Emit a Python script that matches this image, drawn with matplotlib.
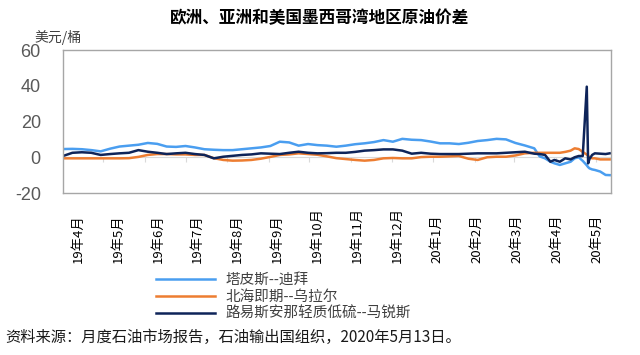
import numpy as np
import pandas as pd
import matplotlib
matplotlib.use("Agg")
import matplotlib.pyplot as plt

plt.rcParams['font.family'] = ['Noto Sans CJK SC', 'DejaVu Sans']

# weekly readings up to mid-March 2020, then denser readings around the spike
dates = list(pd.date_range("2019-04-01", periods=51, freq="7D")) + list(pd.to_datetime([
    "2020-03-20", "2020-03-24", "2020-03-28", "2020-03-31", "2020-04-04", "2020-04-08",
    "2020-04-12", "2020-04-15", "2020-04-18", "2020-04-21", "2020-04-24", "2020-04-25",
    "2020-04-26", "2020-04-28", "2020-04-30", "2020-05-04", "2020-05-08", "2020-05-11"]))

tapis_dubai = [4.6, 4.7, 4.5, 4.0, 3.3, 4.8, 6.0, 6.5, 7.0, 8.0,
               7.5, 6.0, 5.8, 6.3, 5.5, 4.5, 4.2, 4.0, 4.0, 4.5,
               5.0, 5.5, 6.3, 8.7, 8.3, 6.5, 7.4, 6.8, 6.5, 5.9,
               6.5, 7.3, 7.8, 8.5, 9.6, 8.7, 10.3, 9.8, 9.6, 8.8,
               7.8, 7.8, 7.4, 8.1, 9.1, 9.6, 10.3, 10.0, 8.0, 6.6,
               5.0,
               0.5, -0.6, -2.5, -3.4, -4.3, -3.4, -2.5, -0.6, 0.0, -2.0,
               -4.5, -5.5, -6.2, -6.8, -7.1, -8.0, -9.9, -10.0]

brent_urals = [-0.6, -0.6, -0.6, -0.6, -0.6, -0.6, -0.6, -0.5, 0.2, 1.3,
               1.8, 1.8, 1.6, 1.6, 1.3, 1.3, -0.5, -1.5, -1.9, -1.8,
               -1.5, -0.8, 0.2, 1.3, 1.6, 2.2, 1.8, 1.4, 0.5, -0.5,
               -1.0, -1.5, -1.9, -1.5, -0.6, -0.4, -0.6, -0.6, 0.1, 0.3,
               0.3, 0.5, 0.7, -0.8, -1.5, 0.0, 0.3, 0.3, 1.0, 2.2,
               2.5,
               2.5, 2.5, 2.5, 2.5, 2.5, 3.0, 3.7, 5.0, 4.6, 3.0,
               1.5, 0.8, 0.0, -0.6, -0.6, -1.2, -1.2, -1.2]

lls_mars = [0.7, 2.5, 2.8, 2.5, 1.3, 1.8, 2.2, 2.5, 4.0, 3.1,
            2.5, 1.8, 2.2, 2.5, 1.8, 1.3, -0.6, 0.3, 0.8, 1.3,
            1.6, 2.2, 2.0, 1.8, 2.5, 3.1, 2.5, 2.2, 2.3, 2.5,
            2.5, 3.0, 3.7, 4.0, 4.4, 4.4, 3.7, 2.0, 2.5, 2.0,
            1.8, 1.8, 1.8, 2.0, 2.2, 2.2, 2.2, 2.5, 2.8, 3.1,
            2.0,
            1.8, 1.3, -2.5, -1.5, -2.5, -0.6, -1.2, 0.0, 0.7, 0.7,
            39.5, -3.4, -1.0, 1.3, 2.2, 2.0, 1.8, 2.2]

month_labels = ["19年4月", "19年5月", "19年6月", "19年7月", "19年8月", "19年9月", "19年10月",
                "19年11月", "19年12月", "20年1月", "20年2月", "20年3月", "20年4月", "20年5月"]

fig = plt.figure(figsize=(6.4, 3.55), dpi=100)
ax = fig.add_axes([0.0984, 0.4563, 0.8563, 0.4028])

ax.plot(dates, tapis_dubai, color='#4A9EF0', lw=1.8, label='塔皮斯--迪拜')
ax.plot(dates, brent_urals, color='#ED7D31', lw=1.8, label='北海即期--乌拉尔')
ax.plot(dates, lls_mars, color='#0E2459', lw=1.8, label='路易斯安那轻质低硫--马锐斯')

# horizontal axis sits at zero, with month tick marks below it
month_starts = pd.date_range("2019-05-01", "2020-05-01", freq="MS")
ax.axhline(0, color='#D9D9D9', lw=0.8, zorder=0)
ax.vlines(month_starts, -2.8, 0, color='#D9D9D9', lw=0.8, zorder=0)

ax.set_xlim(dates[0], dates[-1] + pd.Timedelta(days=1))
ax.set_ylim(-20, 60)
ax.set_yticks([-20, 0, 20, 40, 60])
ax.tick_params(axis='y', length=0, pad=16, labelsize=13, labelcolor='#595959')
ax.set_yticklabels(['-20', '0', '20', '40', '60'], family=['Liberation Sans', 'DejaVu Sans'])
ax.set_xticks([])
for s in ax.spines.values():
    s.set_color('#A6A6A6')
    s.set_linewidth(1.0)

for i, lab in enumerate(month_labels):
    xf = (78 + 39.9 * i - 63) / 548
    ax.text(xf, -0.49, lab, transform=ax.transAxes, rotation=90, ha='center', va='bottom',
            fontsize=9.5, color='#000000')

fig.text(0.5, 0.95, '欧洲、亚洲和美国墨西哥湾地区原油价差', ha='center', va='center',
         fontsize=12, fontweight='bold')
fig.text(0.09, 0.893, '美元/桶', ha='center', va='center', fontsize=10, color='#404040')

fig.legend(loc='upper left', bbox_to_anchor=(0.235, 0.248), frameon=False, fontsize=10.5,
           handlelength=4.0, handletextpad=0.75, labelspacing=0.2, borderaxespad=0,
           labelcolor='#404040')

fig.text(0.008, 0.05, '资料来源：月度石油市场报告，石油输出国组织，2020年5月13日。',
         ha='left', va='center', fontsize=11, color='#1a1a1a')

fig.savefig('out.png', dpi=100)
